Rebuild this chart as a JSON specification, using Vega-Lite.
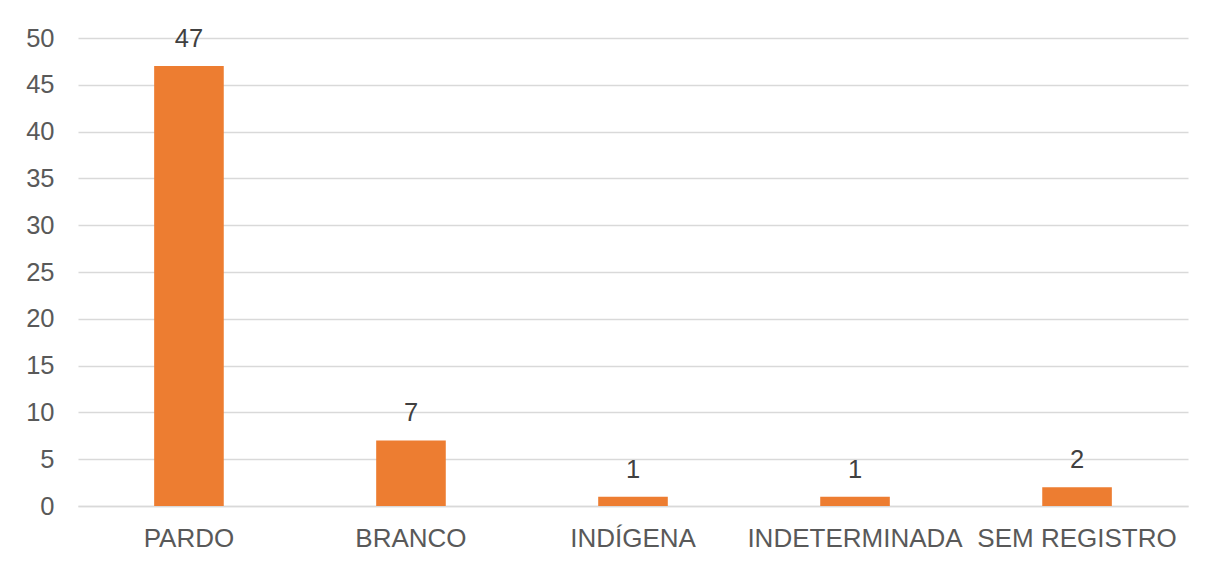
{
  "$schema": "https://vega.github.io/schema/vega-lite/v6.json",
  "width": 1110,
  "height": 468,
  "autosize": {"type": "none"},
  "padding": {"left": 78, "top": 38, "right": 19, "bottom": 56},
  "background": "white",
  "data": {"values": [
    {"cat": "PARDO", "n": 47},
    {"cat": "BRANCO", "n": 7},
    {"cat": "INDÍGENA", "n": 1},
    {"cat": "INDETERMINADA", "n": 1},
    {"cat": "SEM REGISTRO", "n": 2}
  ]},
  "encoding": {
    "x": {"field": "cat", "type": "nominal", "sort": null, "title": null,
      "scale": {"paddingInner": 0.6865, "paddingOuter": 0.343},
      "axis": {"labelAngle": 0, "labelFont": "Liberation Sans", "labelFontSize": 26, "labelColor": "#595959",
        "ticks": false, "domain": true, "domainColor": "#d9d9d9", "domainWidth": 1.5, "labelPadding": 19, "labelOverlap": false, "labelBound": false, "labelLimit": 0}},
    "y": {"field": "n", "type": "quantitative", "title": null,
      "scale": {"domain": [0, 50]},
      "axis": {"values": [0,5,10,15,20,25,30,35,40,45,50], "labelFont": "Liberation Sans", "labelFontSize": 25.5,
        "labelColor": "#595959", "ticks": false, "domain": false, "gridColor": "#d9d9d9", "gridWidth": 1.3, "labelPadding": 24}}
  },
  "layer": [
    {"mark": {"type": "bar", "color": "#ED7D31"}},
    {"mark": {"type": "text", "baseline": "bottom", "dy": -14, "font": "Liberation Sans", "fontSize": 25.5, "color": "#404040"},
      "encoding": {"text": {"field": "n", "type": "quantitative"}}}
  ],
  "config": {"view": {"stroke": null}}
}
